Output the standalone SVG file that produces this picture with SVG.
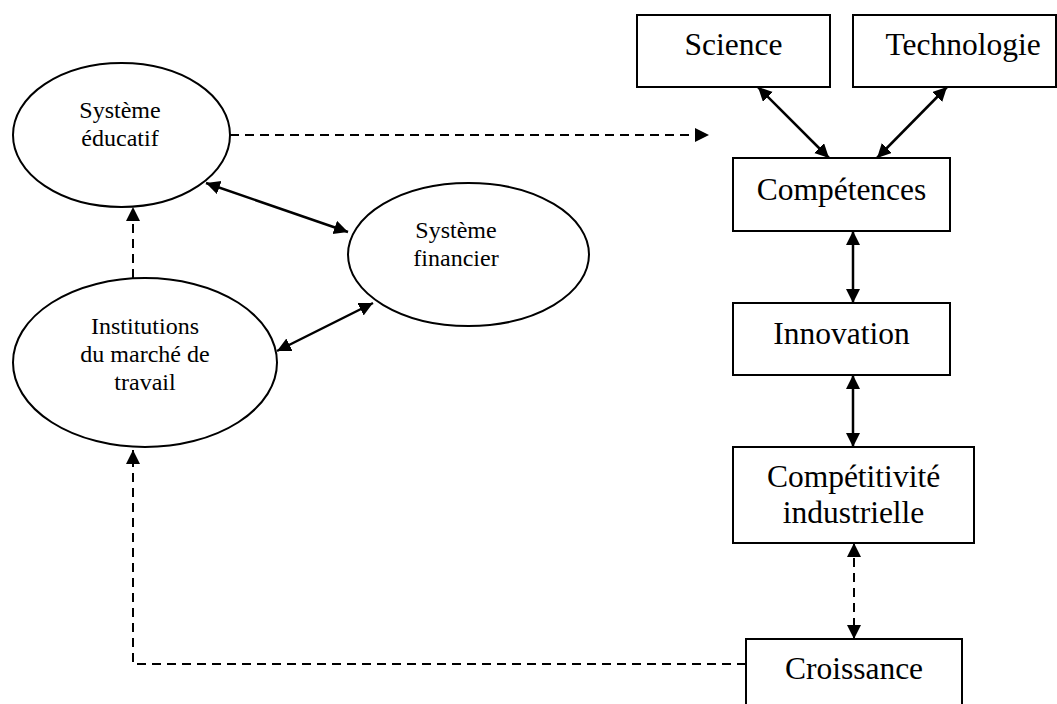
<svg xmlns="http://www.w3.org/2000/svg" width="1057" height="704" viewBox="0 0 1057 704">
<style>
.node{fill:#fff;stroke:#000;stroke-width:2}
.big{font-family:"Liberation Serif","Times New Roman",serif;font-size:31.5px;fill:#000;text-anchor:middle}
.small{font-family:"Liberation Serif","Times New Roman",serif;font-size:24px;fill:#000;text-anchor:middle}
.solid{fill:none;stroke:#000;stroke-width:2.5}
.dash{fill:none;stroke:#000;stroke-width:2;stroke-dasharray:9,6}
</style>
<defs>
<marker id="ah" markerUnits="userSpaceOnUse" markerWidth="16" markerHeight="16" refX="14" refY="7" orient="auto-start-reverse" viewBox="0 0 16 16">
<path d="M0,0 L14,7 L0,14 z" fill="#000"/>
</marker>
</defs>
<rect width="1057" height="704" fill="#fff"/>
<g id="connectors">
<line class="dash" x1="230" y1="135" x2="709" y2="135" marker-end="url(#ah)"/>
<line class="solid" x1="206" y1="183" x2="348" y2="232" marker-start="url(#ah)" marker-end="url(#ah)"/>
<line class="solid" x1="373" y1="303" x2="277" y2="351" marker-start="url(#ah)" marker-end="url(#ah)"/>
<line class="dash" x1="133" y1="278" x2="133" y2="207" marker-end="url(#ah)"/>
<line class="solid" x1="758" y1="87" x2="829" y2="158" marker-start="url(#ah)" marker-end="url(#ah)"/>
<line class="solid" x1="947" y1="87" x2="877" y2="158" marker-start="url(#ah)" marker-end="url(#ah)"/>
<line class="solid" x1="853" y1="231" x2="853" y2="303" marker-start="url(#ah)" marker-end="url(#ah)"/>
<line class="solid" x1="853" y1="375" x2="853" y2="447" marker-start="url(#ah)" marker-end="url(#ah)"/>
<line class="dash" x1="854" y1="543" x2="854" y2="639" marker-start="url(#ah)" marker-end="url(#ah)"/>
<path class="dash" d="M746,664 H133 V450" marker-end="url(#ah)"/>
</g>
<g id="systeme-educatif">
<ellipse class="node" cx="121.5" cy="135" rx="108.5" ry="72"/>
<text class="small" x="120" y="118">Système</text>
<text class="small" x="120" y="146">éducatif</text>
</g>
<g id="systeme-financier">
<ellipse class="node" cx="468.5" cy="254.5" rx="120.5" ry="71.5"/>
<text class="small" x="456" y="238">Système</text>
<text class="small" x="456" y="266">financier</text>
</g>
<g id="institutions">
<ellipse class="node" cx="145" cy="362.5" rx="132" ry="84.5"/>
<text class="small" x="145" y="334">Institutions</text>
<text class="small" x="145" y="362">du marché de</text>
<text class="small" x="145" y="390">travail</text>
</g>
<g id="science">
<rect class="node" x="637" y="15" width="193" height="72"/>
<text class="big" x="733.5" y="55">Science</text>
</g>
<g id="technologie">
<rect class="node" x="853" y="15" width="203" height="72"/>
<text class="big" x="963" y="55">Technologie</text>
</g>
<g id="competences">
<rect class="node" x="733" y="158" width="217" height="73"/>
<text class="big" x="841.5" y="200">Compétences</text>
</g>
<g id="innovation">
<rect class="node" x="733" y="303" width="217" height="72"/>
<text class="big" x="841.5" y="344">Innovation</text>
</g>
<g id="competitivite">
<rect class="node" x="733" y="447" width="241" height="96"/>
<text class="big" x="853.5" y="487">Compétitivité</text>
<text class="big" x="853.5" y="523">industrielle</text>
</g>
<g id="croissance">
<rect class="node" x="746" y="639" width="216" height="75"/>
<text class="big" x="854" y="679">Croissance</text>
</g>
</svg>
